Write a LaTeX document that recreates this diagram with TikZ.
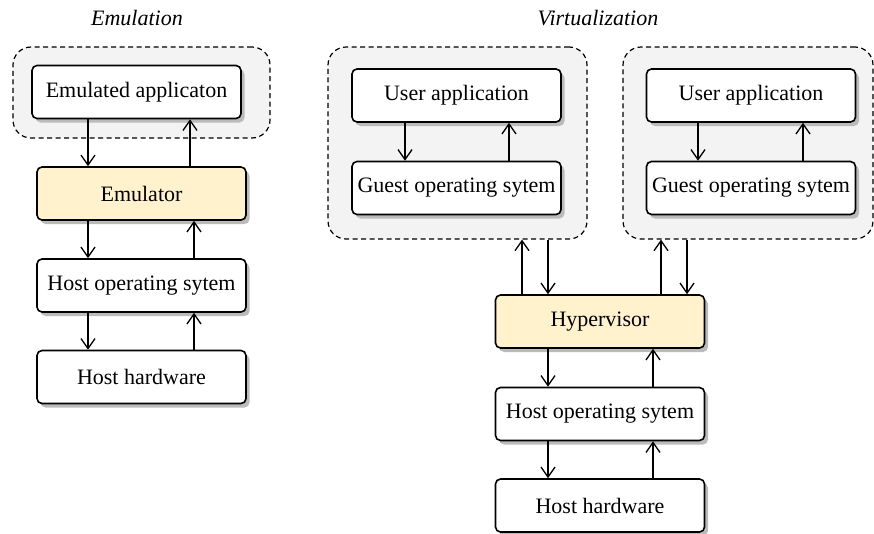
\documentclass[tikz,border=0pt]{standalone}
\usepackage{fontspec}
\setmainfont{Liberation Serif}
\usetikzlibrary{arrows.meta,shadows}
\definecolor{hl}{HTML}{FFF2CC}
\definecolor{grp}{HTML}{F3F3F3}
\definecolor{shd}{HTML}{BBBBBB}
\begin{document}
\begin{tikzpicture}[x=1pt,y=-1pt,
  box/.style={draw=black, line width=1.6pt, rounded corners=5pt, fill=white,
    minimum width=209pt, minimum height=53pt, inner sep=0pt,
    font=\fontsize{22}{26}\selectfont,
    drop shadow={shadow xshift=3.5pt, shadow yshift=-4pt, fill=shd, opacity=1}},
  hlbox/.style={box, fill=hl},
  grpbox/.style={draw=black, line width=1.2pt, dash pattern=on 5pt off 3.5pt,
    rounded corners=18pt, fill=grp, inner sep=0pt},
  title/.style={font=\fontsize{22}{26}\selectfont\itshape},
  arr/.style={line width=1.3pt, -{Straight Barb[length=10pt,width=14pt,line width=1.3pt]}}
]
\useasboundingbox (0,0) rectangle (874,533);

% titles
\node[title] (tEm) at (137,18) {Emulation};
\node[title] (tVi) at (598,18) {Virtualization};

% group boxes
\node[grpbox, minimum width=257pt, minimum height=91pt] (gL) at (141.5,92.5) {};
\node[grpbox, minimum width=259pt, minimum height=192pt] (g1) at (457.5,143) {};
\node[grpbox, minimum width=250pt, minimum height=192pt] (g2) at (748,143) {};

% left column
\node[box] (emuapp) at (136.5,92) {Emulated applicaton};
\node[hlbox] (emu) at (141.5,193.5) {Emulator};
\node[box] (hosL) at (141.5,285.5) {Host operating sytem};
\node[box] (hwL) at (141.5,377) {Host hardware};

% right column
\node[box] (ua1) at (456.5,95.5) {User application};
\node[box] (gos1) at (456.5,188) {Guest operating sytem};
\node[box] (ua2) at (751,95.5) {User application};
\node[box] (gos2) at (751,188) {Guest operating sytem};
\node[hlbox] (hyp) at (600,321.5) {Hypervisor};
\node[box] (hosR) at (600,414) {Host operating sytem};
\node[box] (hwR) at (600,505.5) {Host hardware};

% left arrows
\draw[arr] (emuapp.south -| 88,0) -- (emu.north -| 88,0);
\draw[arr] (emu.north -| 190,0) -- (emuapp.south -| 190,0);
\draw[arr] (emu.south -| 88,0) -- (hosL.north -| 88,0);
\draw[arr] (hosL.north -| 194,0) -- (emu.south -| 194,0);
\draw[arr] (hosL.south -| 88,0) -- (hwL.north -| 88,0);
\draw[arr] (hwL.north -| 194,0) -- (hosL.south -| 194,0);

% guest arrows
\draw[arr] (ua1.south -| 405,0) -- (gos1.north -| 405,0);
\draw[arr] (gos1.north -| 509,0) -- (ua1.south -| 509,0);
\draw[arr] (ua2.south -| 698,0) -- (gos2.north -| 698,0);
\draw[arr] (gos2.north -| 803,0) -- (ua2.south -| 803,0);

% hypervisor to guests
\draw[arr] (hyp.north -| 522,0) -- (g1.south -| 522,0);
\draw[arr] (g1.south -| 548,0) -- (hyp.north -| 548,0);
\draw[arr] (hyp.north -| 661,0) -- (g2.south -| 661,0);
\draw[arr] (g2.south -| 687,0) -- (hyp.north -| 687,0);

% host stack right
\draw[arr] (hyp.south -| 548,0) -- (hosR.north -| 548,0);
\draw[arr] (hosR.north -| 653,0) -- (hyp.south -| 653,0);
\draw[arr] (hosR.south -| 548,0) -- (hwR.north -| 548,0);
\draw[arr] (hwR.north -| 653,0) -- (hosR.south -| 653,0);
\end{tikzpicture}
\end{document}
